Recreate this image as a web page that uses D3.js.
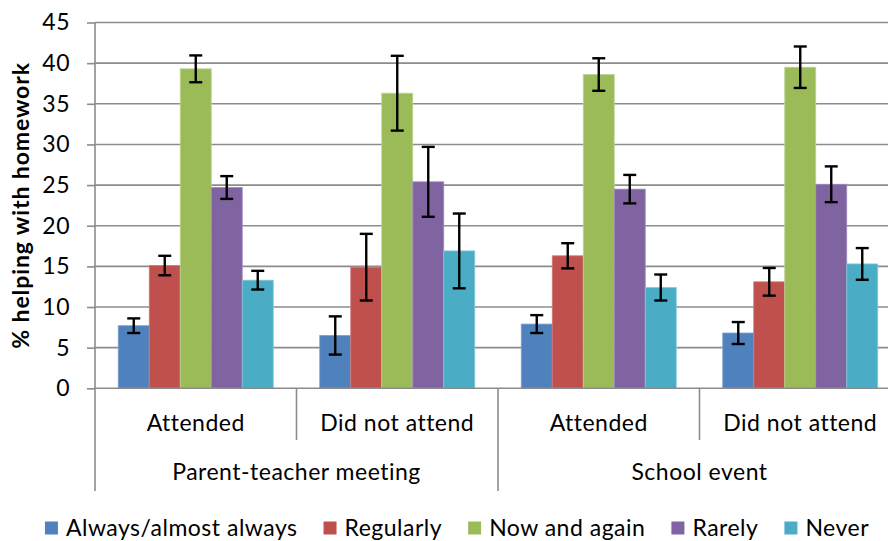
<!DOCTYPE html>
<html>
<head>
<meta charset="utf-8">
<script src="https://cdn.jsdelivr.net/npm/d3@7"></script>
<style>
  html, body { margin: 0; padding: 0; background: #ffffff; }
  svg { display: block; }
  text { font-family: Lato, "Open Sans", sans-serif; fill: #000; }
</style>
</head>
<body>
<svg id="chart" width="888" height="541"></svg>
<script>
// ---- data ----
const groups = ["Parent-teacher meeting", "School event"];
const categories = ["Attended", "Did not attend", "Attended", "Did not attend"];
const categoryGroup = [0, 0, 1, 1];
const seriesNames = ["Always/almost always", "Regularly", "Now and again", "Rarely", "Never"];
const seriesColors = ["#4F81BD", "#C0504D", "#9BBB59", "#8064A2", "#4BACC6"];
const seriesStroke = ["#7a9fd0", "#d27a78", "#bdd48e", "#a08cbd", "#86c6d8"];
// values[series][category]
const alwaysVals    = [7.7, 6.5, 7.9, 6.8];
const regularlyVals = [15.1, 14.9, 16.3, 13.1];
const nowAgainVals  = [39.3, 36.3, 38.6, 39.5];
const rarelyVals    = [24.7, 25.4, 24.5, 25.1];
const neverVals     = [13.3, 16.9, 12.4, 15.3];
// error half-widths
const alwaysErr    = [0.9, 2.35, 1.1, 1.35];
const regularlyErr = [1.2, 4.1, 1.55, 1.7];
const nowAgainErr  = [1.65, 4.6, 2.0, 2.55];
const rarelyErr    = [1.4, 4.3, 1.75, 2.2];
const neverErr     = [1.15, 4.6, 1.6, 1.95];
const yTicks = [0, 5, 10, 15, 20, 25, 30, 35, 40, 45];
const yTitle = "% helping with homework";

const values = [alwaysVals, regularlyVals, nowAgainVals, rarelyVals, neverVals];
const errors = [alwaysErr, regularlyErr, nowAgainErr, rarelyErr, neverErr];

// ---- layout ----
const svg = d3.select("#chart");
const plotLeft = 95, plotTop = 22.5, plotBottom = 388.3;
const catWidth = 201.5;
const plotRight = plotLeft + catWidth * categories.length;
const fontSize = 23;
const letterSp = "0.5px";
const gridColor = "#8c8c8c";

const x0 = d3.scaleBand().domain(d3.range(categories.length)).range([plotLeft, plotRight]).paddingInner(0).paddingOuter(0);
const x1 = d3.scaleBand().domain(d3.range(seriesNames.length)).range([0, x0.bandwidth()]).paddingInner(0).paddingOuter(0.75);
const y = d3.scaleLinear().domain([0, 45]).range([plotBottom, plotTop]);

// gridlines
svg.append("g").selectAll("line").data(yTicks.filter(d => d > 0)).join("line")
  .attr("x1", plotLeft).attr("x2", plotRight)
  .attr("y1", d => y(d)).attr("y2", d => y(d))
  .attr("stroke", gridColor).attr("stroke-width", 1.6);

// y axis
const yAxis = d3.axisLeft(y).tickValues(yTicks).tickSize(8).tickPadding(17).tickFormat(d3.format("d"));
const yg = svg.append("g").attr("transform", `translate(${plotLeft},0)`).call(yAxis);
yg.select(".domain").remove();
yg.selectAll(".tick line").attr("stroke", gridColor).attr("stroke-width", 1.6);
yg.selectAll(".tick text").attr("font-size", fontSize).attr("font-family", "Lato").attr("fill", "#000")
  .attr("letter-spacing", letterSp);
svg.append("line").attr("x1", plotLeft).attr("x2", plotLeft).attr("y1", plotTop).attr("y2", 491)
  .attr("stroke", gridColor).attr("stroke-width", 1.6);

// y title
svg.append("text")
  .attr("transform", `translate(29,${(plotTop + plotBottom) / 2}) rotate(-90)`)
  .attr("text-anchor", "middle")
  .attr("font-size", 23).attr("font-weight", "bold").attr("letter-spacing", "0.9px")
  .text(yTitle);

// bars
const barG = svg.append("g");
seriesNames.forEach((s, si) => {
  barG.append("g").selectAll("rect").data(values[si]).join("rect")
    .attr("x", (d, ci) => x0(ci) + x1(si))
    .attr("y", d => y(d))
    .attr("width", x1.bandwidth())
    .attr("height", d => y(0) - y(d))
    .attr("fill", seriesColors[si])
    .attr("stroke", seriesStroke[si]).attr("stroke-width", 0.8);
});

// x baseline
svg.append("line").attr("x1", plotLeft).attr("x2", plotRight).attr("y1", y(0)).attr("y2", y(0))
  .attr("stroke", gridColor).attr("stroke-width", 1.6);

// error bars
const capHalf = 6.5;
const errG = svg.append("g").attr("stroke", "#000").attr("stroke-width", 2.4).attr("fill", "none");
seriesNames.forEach((s, si) => {
  values[si].forEach((v, ci) => {
    const cx = x0(ci) + x1(si) + x1.bandwidth() / 2;
    const e = errors[si][ci];
    const yt = y(v + e), yb = y(v - e);
    errG.append("line").attr("x1", cx).attr("x2", cx).attr("y1", yt).attr("y2", yb);
    errG.append("line").attr("x1", cx - capHalf).attr("x2", cx + capHalf).attr("y1", yt).attr("y2", yt);
    errG.append("line").attr("x1", cx - capHalf).attr("x2", cx + capHalf).attr("y1", yb).attr("y2", yb);
  });
});

// category separators
for (let ci = 1; ci <= categories.length; ci++) {
  const xb = x0(ci - 1) + x0.bandwidth();
  const groupEnd = ci === categories.length || categoryGroup[ci] !== categoryGroup[ci - 1];
  svg.append("line").attr("x1", xb).attr("x2", xb).attr("y1", y(0)).attr("y2", groupEnd ? 491 : 440)
    .attr("stroke", gridColor).attr("stroke-width", 1.6);
}

// category labels
svg.append("g").selectAll("text").data(categories).join("text")
  .attr("x", (d, ci) => x0(ci) + x0.bandwidth() / 2)
  .attr("y", 430.5)
  .attr("text-anchor", "middle").attr("font-size", fontSize).attr("letter-spacing", letterSp)
  .text(d => d);

// group labels
svg.append("g").selectAll("text").data(groups).join("text")
  .attr("x", (d, gi) => {
    const idx = categoryGroup.map((g, i) => g === gi ? i : -1).filter(i => i >= 0);
    return (x0(idx[0]) + x0(idx[idx.length - 1]) + x0.bandwidth()) / 2;
  })
  .attr("y", 480)
  .attr("text-anchor", "middle").attr("font-size", fontSize).attr("letter-spacing", letterSp)
  .text(d => d);

// legend
const legend = svg.append("g");
const sq = 13, sqGap = 8, itemGap = 26;
let cursor = 0;
seriesNames.forEach((s, si) => {
  const g = legend.append("g");
  g.append("rect").attr("x", 0).attr("y", -sq - 1.5).attr("width", sq).attr("height", sq).attr("fill", seriesColors[si]);
  const t = g.append("text").attr("x", sq + sqGap).attr("y", 0).attr("font-size", fontSize)
    .attr("letter-spacing", letterSp).text(s);
  const w = t.node().getComputedTextLength();
  g.attr("transform", `translate(${cursor},0)`);
  cursor += sq + sqGap + w + itemGap;
});
const legendWidth = cursor - itemGap;
legend.attr("transform", `translate(${457 - legendWidth / 2},536)`);
</script>
</body>
</html>
